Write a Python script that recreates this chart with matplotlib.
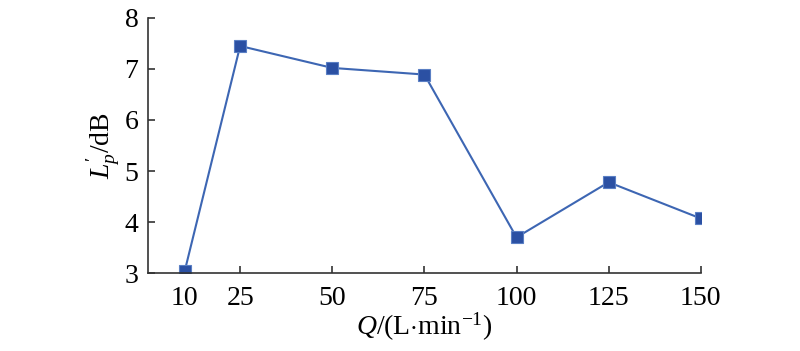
import matplotlib
matplotlib.use("Agg")
import matplotlib.pyplot as plt

flow = [10, 25, 50, 75, 100, 125, 150]
lp = [3.05, 7.45, 7.02, 6.89, 3.70, 4.78, 4.07]
xticks = [10, 25, 50, 75, 100, 125, 150]
yticks = [3, 4, 5, 6, 7, 8]

plt.rcParams['font.family'] = ['Liberation Serif', 'DejaVu Serif']
plt.rcParams['mathtext.fontset'] = 'custom'
plt.rcParams['mathtext.rm'] = 'Liberation Serif'
plt.rcParams['mathtext.it'] = 'Liberation Serif:italic'

fig = plt.figure(figsize=(8, 3.51), dpi=100)
ax = fig.add_axes([0.185, 0.222, 0.691, 0.727])
ax.plot(flow, lp, color='#3d66b3', lw=1.5, marker='s', markersize=8,
        markerfacecolor='#2b50a3', markeredgecolor='#5a7fc4', markeredgewidth=0.8,
        clip_on=True)
ax.set_xlim(0, 150)
ax.set_ylim(3, 8)
ax.set_xticks(xticks)
ax.set_yticks(yticks)
ax.spines['top'].set_visible(False)
ax.spines['right'].set_visible(False)
for s in ['left', 'bottom']:
    ax.spines[s].set_linewidth(1.2)
    ax.spines[s].set_color('#333333')
ax.tick_params(direction='in', length=5, width=1.2, color='#333333', labelsize=20)
ax.tick_params(axis='x', pad=9)
ax.tick_params(axis='y', pad=7)
ax.set_xlabel(r"$Q$/(L$\cdot$min$^{-1}$)", fontsize=20, labelpad=0)
ax.set_ylabel(r"$L_p'$/dB", fontsize=20, labelpad=2)
fig.savefig("out.png", dpi=100)
